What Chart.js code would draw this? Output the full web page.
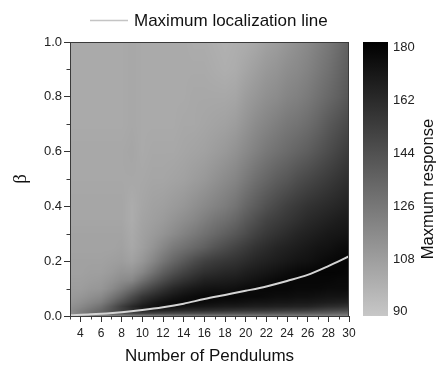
<!DOCTYPE html>
<html><head><meta charset="utf-8">
<script src="https://cdn.jsdelivr.net/npm/chart.js@4.4.1/dist/chart.umd.min.js"></script>
<style>html,body{margin:0;padding:0;background:#fff}</style>
</head><body>
<canvas id="c" width="440" height="365"></canvas>
<script>
// ---- data ----
const nValues = [3,4,5,6,7,8,9,10,11,12,13,14,15,16,17,18,19,20,21,22,23,24,25,26,27,28,29,30];
const betaRows = [0, 0.01, 0.02, 0.035, 0.05, 0.07, 0.1, 0.13, 0.16, 0.2, 0.25, 0.3, 0.35, 0.4, 0.5, 0.6, 0.7, 0.8, 0.9, 1.0];
const resp_b000 = [110,113,116,118,119,119,120,120,121,122,124,124,124,124,125,125,125,125,125,125,124,124,124,123,122,122,121,121];
const resp_b001 = [114,122,129,134,140,145,149,152,151,149,148,147,147,146,145,144,143,143,142,142,141,140,140,139,138,137,135,134];
const resp_b002 = [115,121,127,133,142,151,158,164,164,163,162,161,160,160,159,158,157,156,156,155,154,153,153,152,150,148,147,145];
const resp_b0035 = [113,117,122,128,139,151,161,168,172,174,173,172,171,170,169,168,168,167,166,166,165,165,164,164,162,160,159,157];
const resp_b005 = [111,114,118,122,132,143,153,162,168,172,175,176,176,175,174,173,173,172,171,171,170,170,169,169,168,167,166,165];
const resp_b007 = [109,111,114,117,125,134,145,155,161,166,170,173,175,177,177,177,177,176,176,175,174,174,173,173,172,171,171,170];
const resp_b010 = [108,108,110,111,116,123,131,141,149,156,162,166,169,171,172,172,173,175,176,177,177,177,176,176,176,175,175,175];
const resp_b013 = [107,107,108,109,112,116,118,128,137,145,152,157,161,165,166,167,168,170,172,174,176,177,177,177,177,177,176,176];
const resp_b016 = [106,106,107,107,109,112,112,118,127,136,143,149,154,158,160,162,163,166,168,170,172,174,176,177,178,178,178,177];
const resp_b020 = [106,106,106,106,107,108,106,111,118,126,133,139,145,150,153,155,157,160,163,165,167,169,171,172,174,176,177,178];
const resp_b025 = [105,105,105,105,105,106,103,107,112,118,124,128,132,136,141,145,149,153,157,160,163,165,167,169,171,172,174,175];
const resp_b030 = [105,105,105,105,105,105,102,106,109,112,116,120,124,128,132,136,140,145,150,154,157,160,163,165,167,169,170,171];
const resp_b035 = [104,104,104,104,104,104,101,105,107,109,112,115,118,122,126,129,133,139,144,149,152,155,158,161,163,165,167,168];
const resp_b040 = [104,104,104,104,104,104,101,104,106,107,109,111,114,117,120,123,127,133,138,143,147,151,154,157,159,161,163,165];
const resp_b050 = [103,103,103,103,103,103,103,103,104,104,105,106,108,110,113,116,119,124,129,133,137,140,144,147,150,153,156,159];
const resp_b060 = [103,103,103,103,103,103,104,102,103,103,103,104,105,106,108,110,113,117,121,125,128,131,134,137,141,145,149,153];
const resp_b070 = [102,102,102,102,102,102,103,102,102,102,102,103,103,104,105,106,108,112,116,119,122,125,127,130,134,139,143,147];
const resp_b080 = [102,102,102,102,102,102,103,102,102,102,102,102,103,103,103,103,104,108,111,114,116,119,121,124,128,132,136,141];
const resp_b090 = [102,102,102,102,102,102,103,102,102,102,102,102,102,102,101,100,101,104,107,110,112,115,117,120,124,128,133,138];
const resp_b100 = [102,102,102,102,102,102,103,102,102,102,102,102,101,101,100,99,100,101,103,106,108,111,114,117,121,125,130,136];
const respGrid = [resp_b000,resp_b001,resp_b002,resp_b0035,resp_b005,resp_b007,resp_b010,resp_b013,resp_b016,resp_b020,
                  resp_b025,resp_b030,resp_b035,resp_b040,resp_b050,resp_b060,resp_b070,resp_b080,resp_b090,resp_b100];

const lineN = [3,5,8,10,12,14,16,18,20,22,24,26,28,30];
const lineBeta = [0.003,0.006,0.014,0.022,0.032,0.045,0.062,0.077,0.092,0.108,0.128,0.15,0.182,0.218];

const xTicks = [4,6,8,10,12,14,16,18,20,22,24,26,28,30];
const xMinor = [3,5,7,9,11,13,15,17,19,21,23,25,27,29];
const yTicks = [0,0.2,0.4,0.6,0.8,1.0];
const yMinor = [0.1,0.3,0.5,0.7,0.9];
const cbTicks = [90,108,126,144,162,180];
const cbMin = 90, cbMax = 180;          // colour range
const cbAxisMin = 88.6, cbAxisMax = 182; // colour-bar axis extent (labels sit inside the bar ends)

// ---- helpers ----
function grayLevel(v){
  let g = Math.round(196*(cbMax - v)/(cbMax - cbMin));
  return Math.max(0, Math.min(255, g));
}
function grayFor(v){ const g = grayLevel(v); return 'rgb('+g+','+g+','+g+')'; }
function locate(arr, v){
  if (v <= arr[0]) return [0, 0];
  const last = arr.length - 1;
  if (v >= arr[last]) return [last - 1, 1];
  let k = 0;
  while (k < last - 1 && arr[k+1] < v) k++;
  return [k, (v - arr[k]) / (arr[k+1] - arr[k])];
}
// screen shading of the grid (bilinear between the grid nodes)
function shadeAt(n, b){
  const [j, tx] = locate(nValues, n);
  const [i, ty] = locate(betaRows, b);
  const r0 = respGrid[i], r1 = respGrid[i+1];
  const a0 = r0[j]*(1-tx) + r0[j+1]*tx;
  const a1 = r1[j]*(1-tx) + r1[j+1]*tx;
  return a0*(1-ty) + a1*ty;
}
const FONT = "'Liberation Sans', Arial, sans-serif";

const heatPlugin = {
  id: 'heat',
  beforeDatasetsDraw(chart){
    const xs = chart.scales.x, ys = chart.scales.y, a = chart.chartArea, ctx = chart.ctx;
    const L = Math.round(a.left), T = Math.round(a.top);
    const W = Math.round(a.right) - L, H = Math.round(a.bottom) - T;
    const img = ctx.createImageData(W, H);
    const nAt = [];
    for (let px = 0; px < W; px++) nAt.push(xs.getValueForPixel(L + px + 0.5));
    for (let py = 0; py < H; py++){
      const b = ys.getValueForPixel(T + py + 0.5);
      for (let px = 0; px < W; px++){
        const g = grayLevel(shadeAt(nAt[px], b));
        const k = (py*W + px)*4;
        img.data[k] = g; img.data[k+1] = g; img.data[k+2] = g; img.data[k+3] = 255;
      }
    }
    ctx.putImageData(img, L, T);
  },
  afterDraw(chart){
    const xs = chart.scales.x, ys = chart.scales.y, cb = chart.scales.cb, a = chart.chartArea, ctx = chart.ctx;
    ctx.save();
    // frame
    ctx.strokeStyle = '#3a3a3a'; ctx.lineWidth = 1;
    ctx.strokeRect(Math.round(a.left)+0.5, Math.round(a.top)+0.5, Math.round(a.right-a.left)-1, Math.round(a.bottom-a.top));
    // minor ticks
    ctx.beginPath();
    xMinor.forEach(v => { const x = Math.round(xs.getPixelForValue(v))+0.5; ctx.moveTo(x, a.bottom); ctx.lineTo(x, a.bottom+3.5); });
    yMinor.forEach(v => { const y = Math.round(ys.getPixelForValue(v))+0.5; ctx.moveTo(a.left, y); ctx.lineTo(a.left-3.5, y); });
    ctx.stroke();
    // legend (series label from the dataset)
    const ds = chart.data.datasets[0];
    ctx.strokeStyle = '#c4c4c4'; ctx.lineWidth = 1.5;
    ctx.beginPath(); ctx.moveTo(90, 20.5); ctx.lineTo(128, 20.5); ctx.stroke();
    ctx.fillStyle = '#111';
    ctx.font = '17px ' + FONT;
    ctx.textAlign = 'left'; ctx.textBaseline = 'middle';
    ctx.fillText(ds.label, 134, 21);
    // colorbar
    const top = cb.getPixelForValue(cbAxisMax), bot = cb.getPixelForValue(cbAxisMin);
    const x0 = cb.left + 14, w = 25;
    const grad = ctx.createLinearGradient(0, bot, 0, top);
    grad.addColorStop(0, grayFor(cbAxisMin));
    grad.addColorStop(1, grayFor(cbAxisMax));
    ctx.fillStyle = grad;
    ctx.fillRect(x0, top, w, bot-top);
    // colorbar title
    ctx.translate(cb.left + 79, (top+bot)/2 + 10);
    ctx.rotate(-Math.PI/2);
    ctx.fillStyle = '#111';
    ctx.font = '16.5px ' + FONT;
    ctx.textAlign = 'center'; ctx.textBaseline = 'middle';
    ctx.fillText('Maxmum response', 0, 0);
    ctx.restore();
  }
};

new Chart(document.getElementById('c'), {
  type: 'line',
  data: {
    datasets: [{
      label: 'Maximum localization line',
      data: lineN.map((n,i) => ({x: n, y: lineBeta[i]})),
      borderColor: '#d4d4d4',
      backgroundColor: '#d4d4d4',
      borderWidth: 2,
      pointRadius: 0,
      cubicInterpolationMode: 'monotone',
      xAxisID: 'x', yAxisID: 'y'
    }]
  },
  options: {
    responsive: false,
    animation: false,
    devicePixelRatio: 1,
    layout: { padding: { top: 42, right: 22, left: 0, bottom: 0 } },
    plugins: {
      legend: { display: false },
      tooltip: { enabled: false }
    },
    scales: {
      x: {
        type: 'linear', position: 'bottom', min: 3, max: 30,
        afterBuildTicks: s => { s.ticks = xTicks.map(v => ({value: v})); },
        afterFit: s => { s.height = 49; },
        ticks: { color: '#222', font: { family: FONT, size: 12 }, padding: 4, maxRotation: 0, autoSkip: false },
        grid: { drawOnChartArea: false, tickLength: 6, color: '#333' },
        border: { display: true, color: '#333' },
        title: { display: true, text: 'Number of Pendulums', color: '#111',
                 font: { family: FONT, size: 17, lineHeight: 1 }, padding: { top: 0, bottom: 0 } }
      },
      y: {
        type: 'linear', position: 'left', min: 0, max: 1,
        afterBuildTicks: s => { s.ticks = yTicks.map(v => ({value: v})); },
        afterFit: s => { s.width = 70; },
        ticks: { color: '#222', font: { family: FONT, size: 13 }, padding: 2, callback: v => v.toFixed(1) },
        grid: { drawOnChartArea: false, tickLength: 6, color: '#333' },
        border: { display: true, color: '#333' },
        title: { display: true, text: 'β', color: '#111',
                 font: { family: "'Liberation Serif', serif", size: 19, lineHeight: 1 }, padding: { top: 12, bottom: 0 } }
      },
      cb: {
        type: 'linear', position: 'right', min: cbAxisMin, max: cbAxisMax,
        afterBuildTicks: s => { s.ticks = cbTicks.map(v => ({value: v})); },
        afterFit: s => { s.width = 69; },
        ticks: { color: '#222', font: { family: FONT, size: 13 }, padding: 4 },
        grid: { display: true, drawOnChartArea: false, drawTicks: true, tickLength: 40, color: 'rgba(0,0,0,0)' },
        border: { display: false }
      }
    }
  },
  plugins: [heatPlugin]
});
</script>
</body></html>
